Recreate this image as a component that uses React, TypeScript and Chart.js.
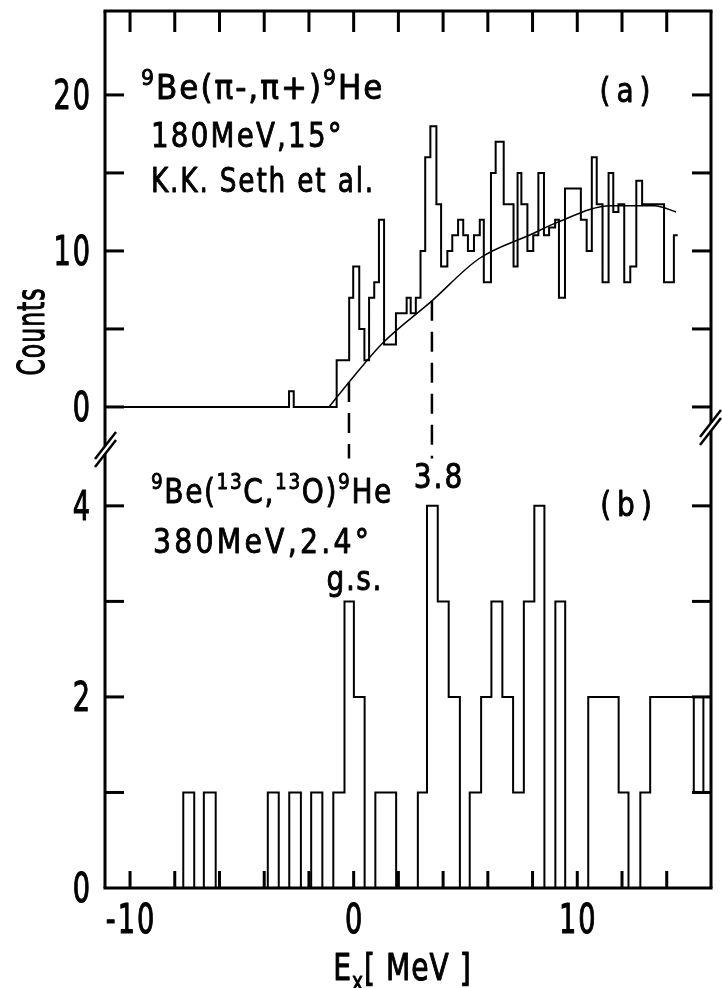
import React, { useEffect, useRef } from 'react';
import { Chart, registerables } from 'chart.js';
Chart.register(...registerables);

// ---------- data ----------
const xTicks = [-10, -8, -6, -4, -2, 0, 2, 4, 6, 8, 10, 12, 14];
const xTickLabels = ['-10', '0', '10'];
const xLabelValues = [-10, 0, 10];
const aTicks = [0, 5, 10, 15, 20];
const aLabelValues = [0, 10, 20];
const bTicks = [0, 1, 2, 3, 4];
const bLabelValues = [0, 2, 4];

// panel (a): left bin edge [MeV] and counts of that bin
const aEdges = [-11.12, -2.89, -2.68, -0.76, -0.2, -0.02, 0.25, 0.48, 0.69, 0.92, 1.13, 1.36, 1.89, 2.37, 2.55, 2.78, 2.99, 3.2, 3.43, 3.7, 3.91, 4.19, 4.41, 4.67, 4.9, 5.11, 5.38, 5.64, 5.82, 6.14, 6.35, 6.71, 6.97, 7.15, 7.33, 7.5, 7.77, 8.03, 8.26, 8.51, 8.74, 9.01, 9.18, 9.45, 10.16, 10.42, 10.65, 10.87, 11.13, 11.4, 11.61, 11.84, 12.1, 12.37, 12.64, 12.9, 13.61, 13.88, 14.32];
const aCounts = [0, 1, 0, 3, 7, 9, 5, 3, 7, 8, 12, 4, 6, 7, 6, 7, 10, 16, 18, 13, 9, 10, 11, 12, 11, 10, 11, 12, 8, 15, 17, 13, 13, 9, 15, 13, 10, 11, 15, 11, 11.5, 12, 7, 14, 12, 10, 16, 13, 8, 15, 12.5, 13, 8, 9, 14.5, 13, 13, 8, 11];
const aEnd = 14.49;

// fitted background curve of panel (a)
const curveE = [-1.1, -0.2, 1.3, 3.5, 5.6, 8.0, 9.05, 11.5, 13.45, 14.42];
const curveCounts = [0, 1.6, 4.1, 6.8, 9.5, 11.1, 11.8, 12.9, 12.9, 12.5];

// state markers (dashed lines)
const markerE = [-0.21, 3.5];
const markerTop = [1.6, 6.8];
const markerBottom = -3.3;

// panel (b)
const bEdges = [-11.12, -7.62, -7.13, -6.7, -6.17, -3.84, -3.35, -2.88, -2.36, -1.9, -1.4, -0.91, -0.41, 0.01, 0.49, 0.97, 1.9, 2.87, 3.28, 3.76, 4.25, 4.75, 5.19, 5.7, 6.16, 6.65, 7.13, 7.61, 8.08, 8.53, 9.02, 9.46, 10.49, 11.85, 12.29, 12.82, 13.26, 15.21, 15.64];
const bCounts = [0, 1, 0, 1, 0, 1, 0, 1, 0, 1, 0, 1, 3, 2, 0, 1, 0, 1, 4, 3, 2, 0, 1, 2, 3, 2, 1, 3, 4, 0, 3, 0, 2, 1, 0, 1, 2, 1, 2];

const X_MIN = -11.12;
const X_MAX = 15.98;

// ---------- helpers ----------
const FONT = '"DejaVu Sans", "Liberation Sans", sans-serif';
type Run = { t: string; sub?: boolean; sup?: boolean };

function drawRuns(ctx: CanvasRenderingContext2D, runs: Run[], x: number, y: number, size: number, sx: number, align: 'left' | 'center' | 'right' = 'left', ls = 0, weight = 1) {
  ctx.save();
  ctx.textBaseline = 'alphabetic';
  ctx.textAlign = 'left';
  const chars: { c: string; s: number; dy: number; w: number }[] = [];
  runs.forEach(r => {
    const s = r.sub || r.sup ? size * 0.66 : size;
    const dy = r.sup ? -size * 0.42 : r.sub ? size * 0.25 : 0;
    ctx.font = `${s}px ${FONT}`;
    for (const c of Array.from(r.t)) {
      chars.push({ c, s, dy, w: ctx.measureText(c).width * sx + ls });
    }
  });
  const total = chars.reduce((a, c) => a + c.w, 0) - ls;
  let cx = align === 'left' ? x : align === 'center' ? x - total / 2 : x - total;
  chars.forEach(ch => {
    ctx.font = `${ch.s}px ${FONT}`;
    ctx.save();
    ctx.translate(cx, y + ch.dy);
    ctx.scale(sx, 1);
    ctx.fillText(ch.c, 0, 0);
    if (weight > 0) {
      ctx.lineWidth = weight;
      ctx.lineJoin = 'round';
      ctx.strokeText(ch.c, 0, 0);
    }
    ctx.restore();
    cx += ch.w;
  });
  ctx.restore();
}

function line(ctx: CanvasRenderingContext2D, x1: number, y1: number, x2: number, y2: number) {
  ctx.beginPath();
  ctx.moveTo(x1, y1);
  ctx.lineTo(x2, y2);
  ctx.stroke();
}

const framePlugin = {
  id: 'framePlugin',
  afterDraw(chart: any) {
    const ctx: CanvasRenderingContext2D = chart.ctx;
    const xs = chart.scales.x;
    const ya = chart.scales.ya;
    const yb = chart.scales.yb;
    const { left, right, top, bottom } = chart.chartArea;
    ctx.save();
    ctx.strokeStyle = '#000';
    ctx.fillStyle = '#000';
    ctx.lineCap = 'butt';
    ctx.lineWidth = 3;
    // frame with axis breaks
    line(ctx, left - 1.5, top, right + 1.5, top);
    line(ctx, left - 1.5, bottom, right + 1.5, bottom);
    line(ctx, left, top, left, 446);
    line(ctx, left, 454, left, bottom);
    line(ctx, right, top, right, 423);
    line(ctx, right, 431, right, bottom);
    ctx.lineWidth = 2.5;
    line(ctx, 95, 459, 116, 432);
    line(ctx, 95, 467, 116, 440);
    line(ctx, 700, 437, 721, 410);
    line(ctx, 700, 445, 721, 418);
    // x ticks (inward)
    ctx.lineWidth = 3;
    xTicks.forEach(v => {
      const px = xs.getPixelForValue(v);
      line(ctx, px, top, px, top + 21);
      line(ctx, px, bottom, px, bottom - 17);
    });
    // y ticks (inward) on both sides
    aTicks.forEach(v => {
      const py = ya.getPixelForValue(v);
      line(ctx, left, py, left + 19, py);
      line(ctx, right, py, right - 19, py);
    });
    bTicks.forEach(v => {
      const py = yb.getPixelForValue(v);
      if (v === 0) return;
      line(ctx, left, py, left + 19, py);
      line(ctx, right, py, right - 19, py);
    });
    // tick labels
    xLabelValues.forEach((v, i) => {
      drawRuns(ctx, [{ t: xTickLabels[i] }], xs.getPixelForValue(v), bottom + 45, 40, 0.68, 'center', 2, 1.1);
    });
    aLabelValues.forEach(v => {
      drawRuns(ctx, [{ t: String(v) }], 90, ya.getPixelForValue(v) + 14, 40, 0.68, 'right', 2, 1.1);
    });
    bLabelValues.forEach(v => {
      drawRuns(ctx, [{ t: String(v) }], 90, yb.getPixelForValue(v) + 14, 40, 0.68, 'right', 2, 1.1);
    });
    // axis titles
    drawRuns(ctx, [{ t: 'E' }, { t: 'x', sub: true }, { t: '[ MeV ]' }], 402, 980, 38, 0.74, 'center', 1, 1.1);
    ctx.save();
    ctx.translate(44, 332);
    ctx.rotate(-Math.PI / 2);
    drawRuns(ctx, [{ t: 'Counts' }], 0, 0, 38, 0.62, 'center', 1, 1.1);
    ctx.restore();
    // annotations panel (a)
    drawRuns(ctx, [{ t: '9', sup: true }, { t: 'Be(π-,π+)' }, { t: '9', sup: true }, { t: 'He' }], 141, 99, 33, 0.94, 'left', 2, 0.9);
    drawRuns(ctx, [{ t: '180MeV,15°' }], 151, 147, 33, 0.84, 'left', 2.2, 0.9);
    drawRuns(ctx, [{ t: 'K.K. Seth et al.' }], 151, 192, 33, 0.8, 'left', 1.8, 0.9);
    drawRuns(ctx, [{ t: '(a)' }], 625, 102, 33, 0.85, 'center', 6, 0.9);
    // annotations panel (b)
    drawRuns(ctx, [{ t: '9', sup: true }, { t: 'Be(' }, { t: '13', sup: true }, { t: 'C,' }, { t: '13', sup: true }, { t: 'O)' }, { t: '9', sup: true }, { t: 'He' }], 151, 503, 33, 0.85, 'left', 1.6, 0.9);
    drawRuns(ctx, [{ t: '3.8' }], 438, 488, 33, 0.85, 'center', 2, 0.9);
    drawRuns(ctx, [{ t: '(b)' }], 626, 516, 33, 0.85, 'center', 6, 0.9);
    drawRuns(ctx, [{ t: '380MeV,2.4°' }], 153, 553, 33, 0.86, 'left', 3.2, 0.9);
    drawRuns(ctx, [{ t: 'g.s.' }], 354, 590, 33, 0.85, 'center', 1.5, 0.9);
    ctx.restore();
  },
};

function pts(edges: number[], counts: number[], end?: number, endY?: number) {
  const p = edges.map((e, i) => ({ x: e, y: counts[i] }));
  if (end !== undefined) p.push({ x: end, y: endY as number });
  return p;
}

export default function App() {
  const ref = useRef<HTMLCanvasElement | null>(null);
  useEffect(() => {
    document.body.style.margin = '0';
    const canvas = ref.current!;
    const common = { pointRadius: 0, fill: false, borderColor: '#000', xAxisID: 'x' };
    const chart = new Chart(canvas, {
      type: 'line',
      data: {
        datasets: [
          { ...common, label: 'a', yAxisID: 'ya', data: pts(aEdges, aCounts, aEnd, aCounts[aCounts.length - 1]), stepped: 'before', borderWidth: 2 } as any,
          { ...common, label: 'fit', yAxisID: 'ya', data: curveE.map((e, i) => ({ x: e, y: curveCounts[i] })), cubicInterpolationMode: 'monotone', borderWidth: 1.5 } as any,
          ...markerE.map((e, i) => ({ ...common, label: 'm' + i, yAxisID: 'ya', data: [{ x: e, y: markerTop[i] }, { x: e, y: markerBottom }], borderWidth: 2.5, borderDash: [20, 11] } as any)),
          { ...common, label: 'b', yAxisID: 'yb', data: pts(bEdges, bCounts, X_MAX, bCounts[bCounts.length - 1]), stepped: 'before', borderWidth: 2 } as any,
        ],
      },
      options: {
        animation: false,
        responsive: false,
        maintainAspectRatio: false,
        events: [],
        layout: { padding: { top: 11, right: 11, left: 0, bottom: 0 } },
        plugins: { legend: { display: false }, tooltip: { enabled: false } },
        scales: {
          x: {
            type: 'linear', position: 'bottom', min: X_MIN, max: X_MAX,
            ticks: { display: false }, grid: { display: false }, border: { display: false },
            afterFit: (s: any) => { s.height = 100; },
          },
          yb: {
            type: 'linear', position: 'left', stack: 'v', stackWeight: 428, min: 0, max: 4.48,
            ticks: { display: false }, grid: { display: false }, border: { display: false },
            afterFit: (s: any) => { s.width = 105; },
          },
          ya: {
            type: 'linear', position: 'left', stack: 'v', stackWeight: 449, min: -3.4, max: 25.38,
            ticks: { display: false }, grid: { display: false }, border: { display: false },
            afterFit: (s: any) => { s.width = 105; },
          },
        } as any,
      },
      plugins: [framePlugin],
    });
    return () => chart.destroy();
  }, []);
  return (
    <div style={{ position: 'absolute', left: 0, top: 0, width: 722, height: 988, background: '#fff' }}>
      <canvas ref={ref} width={722} height={988} style={{ display: 'block' }} />
    </div>
  );
}
